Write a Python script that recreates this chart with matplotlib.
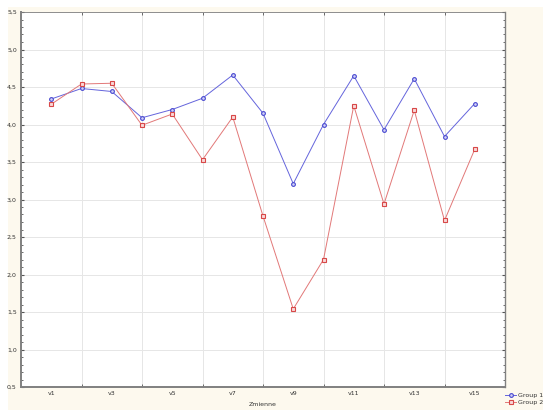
# Wykres liniowy: Group 1 vs Group 2
import matplotlib.pyplot as plt
from matplotlib.patches import Rectangle
from matplotlib.ticker import FixedLocator, MultipleLocator, FuncFormatter

# dane
zmienne = ["v%d" % i for i in range(1, 16)]
group1 = [4.34, 4.48, 4.44, 4.09, 4.20, 4.35, 4.66, 4.15, 3.21, 4.00, 4.65, 3.93, 4.61, 3.84, 4.28]
group2 = [4.27, 4.54, 4.55, 3.99, 4.14, 3.53, 4.10, 2.78, 1.54, 2.20, 4.25, 2.94, 4.19, 2.72, 3.67]
y_ticks = [0.5, 1.0, 1.5, 2.0, 2.5, 3.0, 3.5, 4.0, 4.5, 5.0, 5.5]

W, H = 550, 416
fig = plt.figure(figsize=(W / 100, H / 100), dpi=100, facecolor="white")
# kremowe tło panelu
fig.patches.append(Rectangle((8 / W, 1 - 410 / H), (543 - 8) / W, (410 - 7) / H,
                             transform=fig.transFigure, facecolor="#fdf9ee", edgecolor="none", zorder=-5))
ax = fig.add_axes([21 / W, 1 - 387 / H, (505 - 21) / W, (387 - 12) / H])
ax.set_zorder(2)
ax.set_facecolor("white")

x = list(range(1, len(zmienne) + 1))
ax.plot(x, group1, color="#6464dc", lw=0.7, marker="o", ms=2.7, mfc="#d0d0f6", mec="#4848d0", mew=0.8, label="Group 1")
ax.plot(x, group2, color="#e27878", lw=0.7, marker="s", ms=2.6, mfc="#f8d8d8", mec="#d84848", mew=0.8, label="Group 2")

ax.set_xlim(0, 16)
ax.set_ylim(0.5, 5.5)
# siatka na parzystych pozycjach, etykiety na nieparzystych
ax.xaxis.set_major_locator(FixedLocator(x[0::2]))
ax.set_xticklabels(zmienne[0::2])
ax.xaxis.set_minor_locator(FixedLocator(list(range(2, 17, 2))))
ax.yaxis.set_major_locator(FixedLocator(y_ticks))
ax.yaxis.set_minor_locator(MultipleLocator(0.1))
ax.yaxis.set_major_formatter(FuncFormatter(lambda v, p: ("%.1f" % v).replace(".", ",")))
ax.grid(True, which="minor", axis="x", color="#e6e6e6", lw=0.7)
ax.grid(True, which="major", axis="y", color="#e6e6e6", lw=0.7)
ax.set_axisbelow(True)

ax.tick_params(axis="both", which="both", direction="in", top=True, right=True, labelsize=4.5,
               colors="#555555", labelcolor="#333333", pad=3)
ax.tick_params(axis="both", which="major", length=2)
ax.tick_params(axis="y", which="minor", length=1.2)
ax.tick_params(axis="x", which="minor", length=2)
ax.tick_params(axis="x", which="major", length=0)
for s in ax.spines.values():
    s.set_color("#808080")
    s.set_linewidth(0.6)
ax.spines["left"].set_linewidth(1.4)
ax.spines["bottom"].set_linewidth(1.4)
ax.spines["right"].set_linewidth(1.0)

ax.set_xlabel("Zmienne", fontsize=4.5, color="#333333", labelpad=4)
leg = fig.legend(loc="center left", bbox_to_anchor=(505 / W, 1 - 399 / H), fontsize=4.5, frameon=False,
                 handlelength=1.8, handletextpad=0.3, labelspacing=0.3, borderaxespad=0, borderpad=0,
                 labelcolor="#333333")

fig.savefig("out.png", dpi=100, facecolor="white")
